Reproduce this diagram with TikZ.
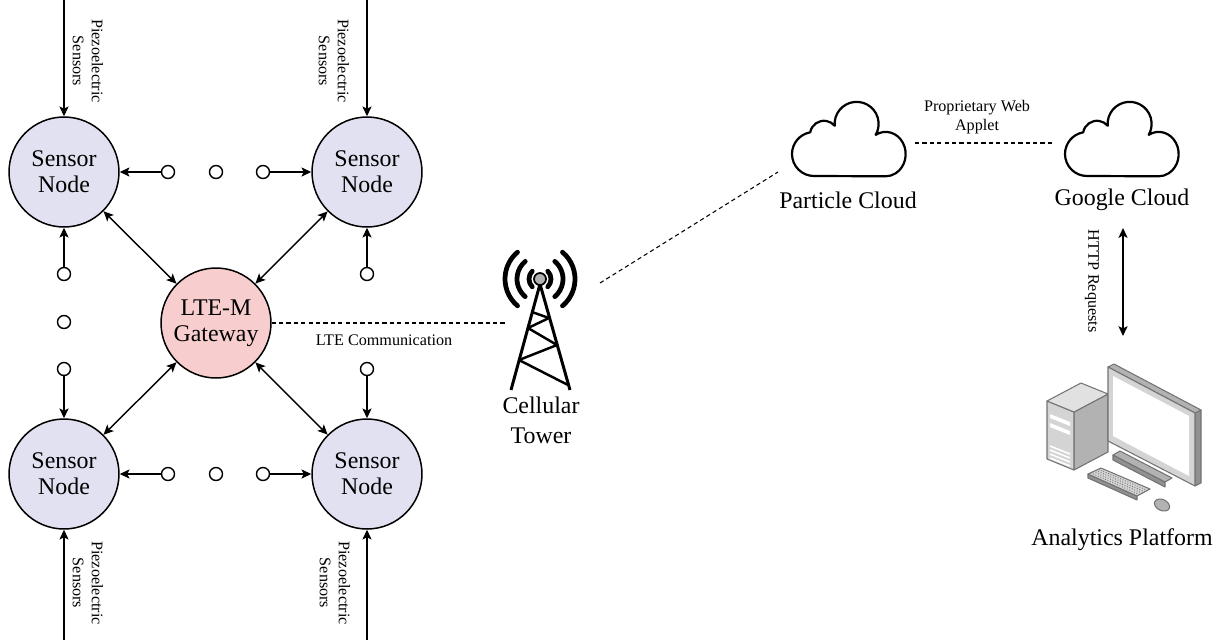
\documentclass[tikz,border=0pt]{standalone}
\usepackage{fontspec}
\setmainfont{Liberation Serif}
\usetikzlibrary{arrows.meta}
\definecolor{snfill}{RGB}{225,225,241}
\definecolor{gwfill}{RGB}{248,205,205}
\definecolor{pclight}{RGB}{212,212,212}
\definecolor{pcmid}{RGB}{178,178,178}
\definecolor{pcdark}{RGB}{145,145,145}
\definecolor{pcedge}{RGB}{115,115,115}

\tikzset{
  >={Stealth[length=5.6pt,width=5.2pt,inset=1.3pt]},
  sensor/.style={circle,draw,fill=snfill,line width=0.85pt,minimum size=2.2cm,
    inner sep=0pt,align=center,font=\fontsize{13.6}{15}\selectfont},
  gateway/.style={sensor,fill=gwfill},
  dot/.style={circle,draw,fill=white,line width=0.8pt,minimum size=0.26cm,inner sep=0pt},
  arr/.style={->,line width=0.8pt},
  biarr/.style={<->,line width=0.8pt},
  link/.style={dash pattern=on 2.4pt off 1.8pt,line width=0.6pt},
  small/.style={font=\fontsize{9.2}{10.8}\selectfont,align=center,inner sep=0pt},
  vlabel/.style={small,rotate=-90},
  lbl/.style={font=\fontsize{13.6}{17}\selectfont,align=center,inner sep=0pt},
  wave/.style={line width=2.7pt,line cap=round},
  cloud/.pic={
    \draw[line width=1.25pt,line join=round,y=0.02cm] (-34,-35)
      arc[start angle=270,end angle=100,radius=22]
      arc[start angle=170,end angle=40,radius=14]
      arc[start angle=185,end angle=-30,radius=22]
      arc[start angle=120,end angle=-90,x radius=20,y radius=22.2] -- cycle;
  },
}

\begin{document}
\begin{tikzpicture}[x=0.02cm,y=-0.02cm,line join=round]
  \useasboundingbox (0,0) rectangle (1223,640);

  \node[sensor] (sn1) at (64,172) {Sensor\\Node};
  \node[sensor] (sn2) at (367,172) {Sensor\\Node};
  \node[sensor] (sn3) at (64,474) {Sensor\\Node};
  \node[sensor] (sn4) at (367,474) {Sensor\\Node};
  \node[gateway] (gw) at (216,323) {LTE-M\\Gateway};

  \foreach \x [count=\i] in {168,216,263} {
    \node[dot] (t\i) at (\x,172) {};
    \node[dot] (b\i) at (\x,474) {};
  }
  \node[dot] (l1) at (64,274) {};
  \node[dot] (l2) at (64,322) {};
  \node[dot] (l3) at (64,369) {};
  \node[dot] (r1) at (367,274) {};
  \node[dot] (r3) at (367,369) {};

  \draw[arr] (t1) -- (sn1);
  \draw[arr] (t3) -- (sn2);
  \draw[arr] (b1) -- (sn3);
  \draw[arr] (b3) -- (sn4);
  \draw[arr] (l1) -- (sn1);
  \draw[arr] (l3) -- (sn3);
  \draw[arr] (r1) -- (sn2);
  \draw[arr] (r3) -- (sn4);
  \foreach \s in {sn1,sn2,sn3,sn4}
    \draw[biarr] (gw) -- (\s);

  \coordinate (in1) at (64,0);
  \coordinate (in2) at (367,0);
  \coordinate (in3) at (64,640);
  \coordinate (in4) at (367,640);
  \foreach \i in {1,...,4}
    \draw[arr] (in\i) -- (sn\i);
  \node[vlabel] (pz1) at (88,61) {Piezoelectric\\Sensors};
  \node[vlabel] (pz2) at (334,61) {Piezoelectric\\Sensors};
  \node[vlabel] (pz3) at (88,583) {Piezoelectric\\Sensors};
  \node[vlabel] (pz4) at (335,583) {Piezoelectric\\Sensors};

  \coordinate (ant) at (540,279);
  \coordinate (lte) at (505,323);
  \draw[link] (gw) -- (lte);
  \node[small] (ltetxt) at (384,340) {LTE Communication};

  \draw[line width=1.7pt] (511,390) -- (540,284) -- (570,390);
  \draw[line width=1.4pt] (532,312) -- (549,318) -- (528,328) -- (557,345)
    -- (519,360) -- (568,385);
  \foreach \r/\a in {11/45,23/50,35/50} {
    \draw[wave] (ant) ++(-\a:\r) arc[start angle=-\a,end angle=\a,radius=\r];
    \draw[wave] (ant) ++({180-\a}:\r) arc[start angle={180-\a},end angle={180+\a},radius=\r];
  }
  \draw[fill=pcmid,line width=1pt] (ant) circle[radius=6];
  \node[lbl] (tower) at (541,420) {Cellular\\Tower};

  \pic at (848,141) {cloud};
  \pic at (1121,141) {cloud};
  \node[lbl] (pcl) at (848,200) {Particle Cloud};
  \node[lbl] (gcl) at (1122,200) {Google Cloud};

  \coordinate (tw-out) at (600,283);
  \coordinate (pc-in) at (778,172);
  \draw[link] (tw-out) -- (pc-in);
  \coordinate (pc-out) at (915,143);
  \coordinate (gc-in) at (1053,143);
  \draw[link] (pc-out) -- (gc-in);
  \node[small] (web) at (977,117) {Proprietary Web\\Applet};

  \coordinate (http-top) at (1123,228);
  \coordinate (http-bot) at (1123,336);
  \draw[biarr] (http-top) -- (http-bot);
  \node[vlabel] (http) at (1092,281) {HTTP Requests};

  \begin{scope}[line width=0.6pt,draw=pcedge]
    \filldraw[fill=pcmid] (1074,412) -- (1108,394) -- (1108,452) -- (1074,470) -- cycle;
    \filldraw[fill=pclight] (1047,401) -- (1074,412) -- (1074,470) -- (1047,459) -- cycle;
    \filldraw[fill=pclight!70!white] (1047,401) -- (1081,383) -- (1108,394) -- (1074,412) -- cycle;
    \foreach \yy in {414,423}
      \fill[white] (1050,\yy) -- (1070,\yy+8) -- (1070,\yy+12) -- (1050,\yy+4) -- cycle;
    \foreach \yy in {446,450,454,458}
      \draw[white,line width=0.9pt] (1050,\yy) -- (1070,\yy+8);

    \filldraw[fill=pcdark] (1113,455) -- (1165,482) -- (1165,487) -- (1113,460) -- cycle;
    \filldraw[fill=pcmid] (1113,455) -- (1120,451) -- (1172,478) -- (1165,482) -- cycle;

    \filldraw[fill=pcdark] (1195,413) -- (1201,410) -- (1201,483) -- (1195,486) -- cycle;
    \filldraw[fill=pcmid] (1108,367) -- (1114,364) -- (1201,410) -- (1195,413) -- cycle;
    \filldraw[fill=pclight] (1108,367) -- (1195,413) -- (1195,486) -- (1108,441) -- cycle;
    \fill[white] (1113,376) -- (1189,416) -- (1189,476) -- (1113,436) -- cycle;

    \filldraw[fill=pcdark] (1088,474) -- (1137,496) -- (1137,500) -- (1088,478) -- cycle;
    \filldraw[fill=pclight] (1088,474) -- (1101,468) -- (1150,489) -- (1137,496) -- cycle;
    \foreach \k in {1,...,4}
      \draw[pcedge,densely dotted,line width=0.5pt]
        ({1088+2.6*\k},{474-1.2*\k}) -- ({1137+2.6*\k},{496-1.4*\k});
    \filldraw[fill=pcmid,rotate around={-25:(1162,505)}] (1162,505)
      ellipse[x radius=8,y radius=5.5];
  \end{scope}
  \node[lbl] (apl) at (1122,540) {Analytics Platform};
\end{tikzpicture}
\end{document}
